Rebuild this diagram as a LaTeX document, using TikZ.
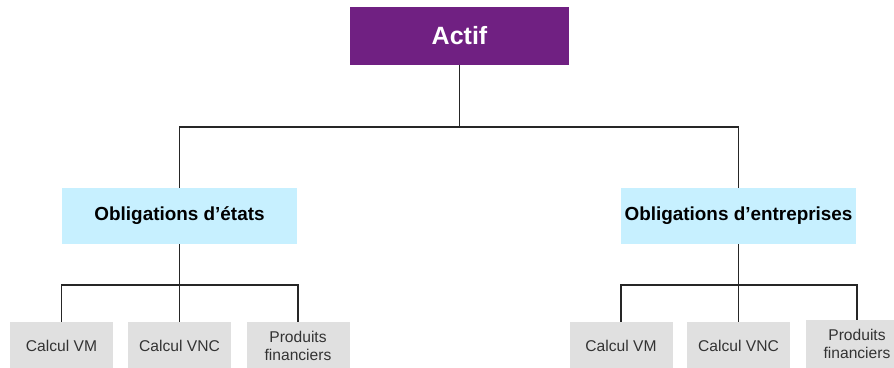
\documentclass[tikz,border=0pt]{standalone}
\usepackage{fontspec}
\setmainfont{Liberation Sans}
\usetikzlibrary{positioning}
\definecolor{actifpurple}{RGB}{112,32,130}
\definecolor{oblblue}{RGB}{199,240,255}
\definecolor{leafgrey}{RGB}{224,224,224}
\tikzset{
  topblock/.style={
    fill=actifpurple,
    text=white,
    inner sep=0pt,
    minimum width=219pt,
    minimum height=58pt,
    font=\bfseries\fontsize{25}{28}\selectfont
  },
  midblock/.style={
    fill=oblblue,
    inner sep=0pt,
    minimum width=235pt,
    minimum height=56pt,
    font=\bfseries\fontsize{18.9}{22}\selectfont
  },
  leafblock/.style={
    fill=leafgrey,
    text=black!80,
    align=center,
    inner sep=0pt,
    minimum width=103pt,
    minimum height=48pt,
    font=\fontsize{15.6}{18}\selectfont
  },
  link/.style={draw=black!85, line width=1.2pt}
}

\begin{document}
\begin{tikzpicture}[x=1pt,y=-1pt]
  \useasboundingbox (0,0) rectangle (894,367);

  \node[topblock] (actif) at (459.5,36) {Actif};

  \node[midblock] (etats) at (179.5,216) {Obligations d’états};
  \node[midblock] (entreprises) at (738.5,216) {Obligations d’entreprises};

  \node[leafblock] (vmA) at (61.5,346) {Calcul VM};
  \node[leafblock] (vncA) at (179.5,346) {Calcul VNC};
  \node[leafblock] (pfA) at (298,346) {Produits\\financiers};

  \node[leafblock] (vmB) at (621,346) {Calcul VM};
  \node[leafblock] (vncB) at (738.5,346) {Calcul VNC};
  \node[leafblock] (pfB) at (857,344) {Produits\\financiers};

  \coordinate (topbus) at (459.5,127);
  \coordinate (busA) at (179.5,285);
  \coordinate (busB) at (738.5,285);

  \path[link] (actif) -- (topbus)
              (etats.north) |- (topbus) -| (entreprises.north)
              (etats) -- (vncA)
              (vmA.north) |- (busA) -| (pfA.north)
              (entreprises) -- (vncB)
              (vmB.north) |- (busB) -| (pfB.north);
\end{tikzpicture}
\end{document}
